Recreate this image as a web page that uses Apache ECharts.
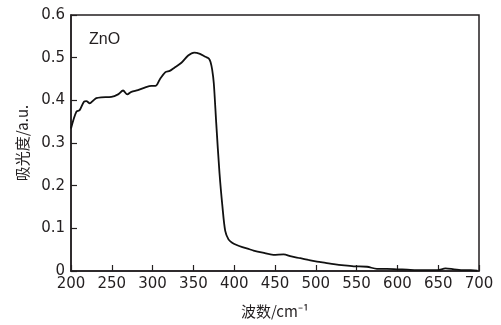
<!DOCTYPE html>
<html>
<head>
<meta charset="utf-8">
<script src="https://cdn.jsdelivr.net/npm/echarts@6/dist/echarts.min.js"></script>
<style>
  html, body { margin: 0; padding: 0; background: #fff; }
  #main { width: 501px; height: 325px; }
</style>
</head>
<body>
<div id="main"></div>
<script>
// 波数 (x) 与 吸光度 (y)
const wavenumber = [200, 206.5, 210.6, 216, 218.8, 223, 227, 231, 237, 249.5, 257.7, 263.8, 269, 274, 282, 290.4, 298.5, 303.5, 308.8, 315.7, 321, 326.4, 335.3, 343.6, 351, 358, 364.8, 369, 371, 373, 375, 378, 382, 385.6, 389, 393, 397, 403, 410, 418.8, 423.7, 435, 448, 460.5, 470, 481, 491, 501.5, 512, 522, 535, 546.4, 562.8, 575, 587, 599.6, 612, 624, 636, 649, 659, 669.4, 681.5, 690, 698]
const absorbance = [0.334, 0.373, 0.377, 0.397, 0.398, 0.393, 0.399, 0.405, 0.407, 0.408, 0.414, 0.423, 0.414, 0.42, 0.424, 0.43, 0.434, 0.434, 0.449, 0.466, 0.469, 0.476, 0.488, 0.505, 0.512, 0.509, 0.502, 0.498, 0.49, 0.472, 0.44, 0.346, 0.229, 0.151, 0.094, 0.074, 0.067, 0.061, 0.056, 0.051, 0.048, 0.043, 0.038, 0.039, 0.034, 0.03, 0.026, 0.022, 0.019, 0.016, 0.013, 0.011, 0.01, 0.005, 0.005, 0.004, 0.003, 0.002, 0.002, 0.002, 0.006, 0.004, 0.002, 0.002, 0.001]
const xTicks = [200, 250, 300, 350, 400, 450, 500, 550, 600, 650, 700]
const yTicks = [0, 0.1, 0.2, 0.3, 0.4, 0.5, 0.6]

const points = wavenumber.map((w, i) => [w, absorbance[i]])

const ink = '#231f20'
const font = 'DejaVu Sans, Liberation Sans, sans-serif'

var myChart = echarts.init(document.getElementById('main'))
myChart.setOption({
  animation: false,
  title: {
    text: 'ZnO',
    left: 84,
    top: 27,
    textStyle: { fontFamily: 'Liberation Sans, Arial, sans-serif', fontSize: 16, fontWeight: 'normal', color: ink }
  },
  grid: {
    left: 71, right: 22, top: 15, bottom: 54,
    show: true, borderColor: ink, borderWidth: 1.5
  },
  xAxis: {
    type: 'value',
    min: 200, max: 700, interval: 50,
    name: '波数/cm⁻¹',
    nameLocation: 'middle',
    nameGap: 33,
    nameTextStyle: { fontFamily: 'Noto Sans CJK SC, Liberation Sans, sans-serif', fontSize: 15, color: ink },
    axisLine: { lineStyle: { color: ink, width: 1.5 } },
    axisTick: { inside: true, length: 6, lineStyle: { color: ink, width: 1.2 } },
    axisLabel: {
      fontFamily: font, fontSize: 15, color: ink, margin: 6,
      formatter: v => xTicks.includes(v) ? String(v) : ''
    },
    splitLine: { show: false }
  },
  yAxis: {
    type: 'value',
    min: 0, max: 0.6, interval: 0.1,
    name: '吸光度/a.u.',
    nameLocation: 'middle',
    nameGap: 41,
    nameTextStyle: { fontFamily: 'Noto Sans CJK SC, Liberation Sans, sans-serif', fontSize: 15, color: ink },
    axisLine: { lineStyle: { color: ink, width: 1.5 } },
    axisTick: { inside: true, length: 6, lineStyle: { color: ink, width: 1.2 } },
    axisLabel: {
      fontFamily: font, fontSize: 15, color: ink, margin: 6,
      formatter: v => {
        const t = yTicks.find(y => Math.abs(y - v) < 1e-9)
        return t === undefined ? '' : (t === 0 ? '0' : t.toFixed(1))
      }
    },
    splitLine: { show: false }
  },
  series: [
    {
      type: 'line',
      data: points,
      showSymbol: false,
      smooth: 0.3,
      lineStyle: { color: '#111', width: 1.8 }
    }
  ]
})
</script>
</body>
</html>
